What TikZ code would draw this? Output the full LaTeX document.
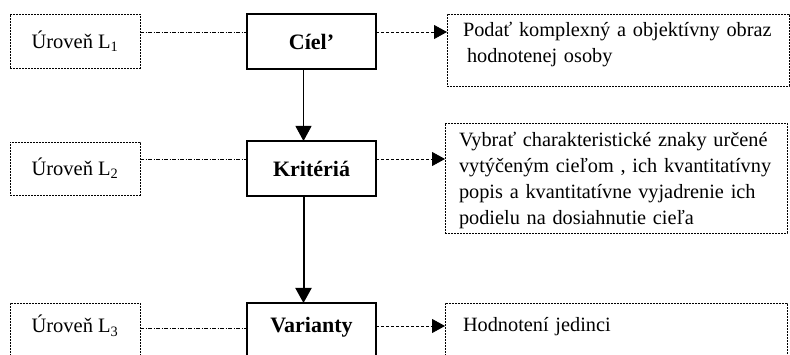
\documentclass[tikz,border=0pt]{standalone}
\usepackage{fontspec}
\setmainfont{Liberation Serif}
\usetikzlibrary{arrows.meta}
\begin{document}
\begin{tikzpicture}[x=1pt,y=-1pt,
  level/.style={draw, line width=0.8pt, dash pattern=on 2pt off 1pt,
    anchor=north west, outer sep=0pt, inner sep=0pt,
    minimum width=130pt, minimum height=54pt,
    font=\fontsize{20.5}{24}\selectfont},
  main/.style={draw, line width=2pt, anchor=north west, outer sep=0pt,
    inner sep=0pt, minimum width=129pt, minimum height=55pt,
    font=\fontsize{22}{26}\selectfont\bfseries},
  note/.style={draw, line width=0.8pt, dash pattern=on 2pt off 1pt,
    anchor=north west, outer sep=0pt, inner xsep=14pt, inner ysep=0pt,
    text width=314pt, align=left,
    font=\fontsize{20.3}{26}\selectfont},
  tie/.style={line width=0.8pt, dash pattern=on 4pt off 1.5pt on 1pt off 1.5pt},
  lead/.style={line width=0.8pt, dash pattern=on 3pt off 2pt,
    -{Triangle[length=13pt,width=14pt]}},
  down/.style={-{Triangle[length=15pt,width=16pt]}}
]
\useasboundingbox (0,0) rectangle (790,355);
\clip (0,0) rectangle (790,355);

% level 1
\node[level] (L1) at (10,14) {Úroveň L\textsubscript{1}};
\node[main] (C) at (247,14) {Cíel’};
\node[note, text height=23pt, text depth=49pt] (R1) at (447,14)
  {\hspace*{2pt}Podať komplexný a objektívny obraz\\\hspace*{6pt}hodnotenej osoby};

% level 2
\node[level, minimum height=53pt] (L2) at (10,142) {Úroveň L\textsubscript{2}};
\node[main] (K) at (247,141) {Kritériá};
\node[note, text height=24pt, text depth=86pt] (R2) at (445,123)
  {Vybrať charakteristické znaky určené\\
   vytýčeným cieľom , ich kvantitatívny\\
   popis a kvantitatívne vyjadrenie ich\\
   podielu na dosiahnutie cieľa};

% level 3 (continues below the lower edge)
\node[level, text height=30pt, text depth=40pt] (L3) at (10,303) {Úroveň L\textsubscript{3}};
\node[main, text height=30pt, text depth=40pt] (V) at (247,303) {Varianty};
\node[note, text height=29pt, text depth=40pt] (R3) at (445,303) {\hspace*{4pt}Hodnotení jedinci};

% horizontal links
\draw[tie] ([yshift=-18pt]L1.north east) -- ([yshift=-18pt]L1.north east -| C.west);
\draw[lead] ([yshift=-18pt]C.north east) -- ([yshift=-18pt]C.north east -| R1.west);
\draw[tie] ([yshift=-17pt]L2.north east) -- ([yshift=-17pt]L2.north east -| K.west);
\draw[lead] ([yshift=-18pt]K.north east) -- ([yshift=-18pt]K.north east -| R2.west);
\draw[tie] ([yshift=-25pt]L3.north east) -- ([yshift=-25pt]L3.north east -| V.west);
\draw[lead] ([yshift=-23pt]V.north east) -- ([yshift=-23pt]V.north east -| R3.west);

% vertical flow
\draw[down, line width=1pt] ([xshift=-8pt]C.south) -- ([xshift=-8pt]C.south |- K.north);
\draw[down, line width=2pt] ([xshift=-8pt]K.south) -- ([xshift=-8pt]K.south |- V.north);
\end{tikzpicture}
\end{document}
